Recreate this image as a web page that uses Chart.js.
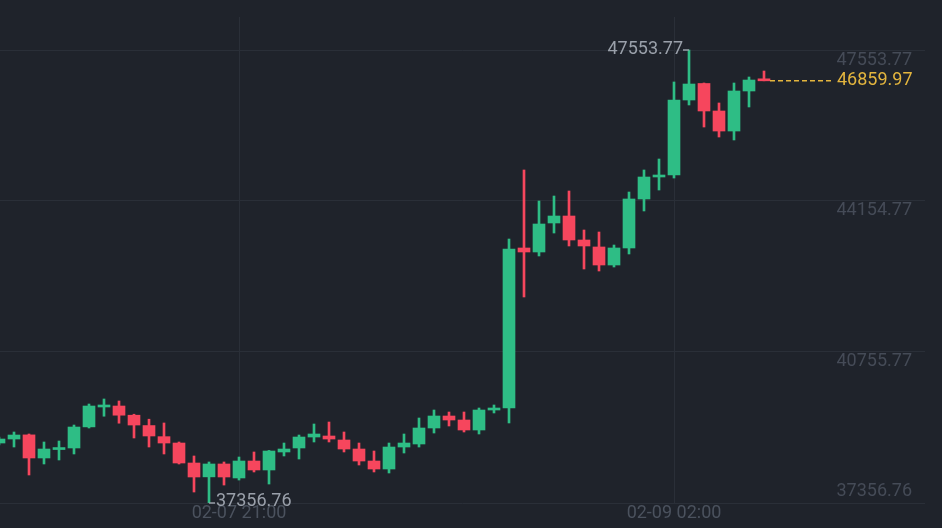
<!DOCTYPE html>
<html>
<head>
<meta charset="utf-8">
<script src="https://cdn.jsdelivr.net/npm/chart.js@4.4.1/dist/chart.umd.min.js"></script>
<style>
html, body { margin: 0; padding: 0; background: #1f232b; }
#caixa { width: 942px; height: 528px; position: relative; }
</style>
</head>
<body>
<div id="caixa"><canvas id="graficoVelas"></canvas></div>
<script>
const horas = [
    '02-07 05:00', '02-07 06:00', '02-07 07:00', '02-07 08:00', '02-07 09:00', '02-07 10:00',
    '02-07 11:00', '02-07 12:00', '02-07 13:00', '02-07 14:00', '02-07 15:00', '02-07 16:00',
    '02-07 17:00', '02-07 18:00', '02-07 19:00', '02-07 20:00', '02-07 21:00', '02-07 22:00',
    '02-07 23:00', '02-08 00:00', '02-08 01:00', '02-08 02:00', '02-08 03:00', '02-08 04:00',
    '02-08 05:00', '02-08 06:00', '02-08 07:00', '02-08 08:00', '02-08 09:00', '02-08 10:00',
    '02-08 11:00', '02-08 12:00', '02-08 13:00', '02-08 14:00', '02-08 15:00', '02-08 16:00',
    '02-08 17:00', '02-08 18:00', '02-08 19:00', '02-08 20:00', '02-08 21:00', '02-08 22:00',
    '02-08 23:00', '02-09 00:00', '02-09 01:00', '02-09 02:00', '02-09 03:00', '02-09 04:00',
    '02-09 05:00', '02-09 06:00', '02-09 07:00', '02-09 08:00'
];

const abertura = [
    38707, 38797, 38890, 38370, 38560, 38595, 39070, 39518, 39540, 39333, 39100, 38850, 38707,
    38257, 37945, 38235, 37920, 38302, 38100, 38505, 38595, 38842, 38865, 38775, 38572, 38302,
    38122, 38617, 38685, 39045, 39315, 39225, 39000, 39450, 39495, 43097, 43007, 43660, 43817,
    43277, 43120, 42714, 43097, 44200, 44695, 44740, 46428, 46800, 46181, 45730, 46631, 46878
];
const maxima = [
    38842, 38955, 38910, 38730, 38752, 39112, 39585, 39698, 39653, 39355, 39243, 39158, 38730,
    38415, 38280, 38280, 38392, 38505, 38540, 38707, 38887, 39135, 39180, 38955, 38707, 38527,
    38707, 38910, 39270, 39450, 39405, 39405, 39495, 39563, 43299, 44853, 44155, 44267, 44380,
    43502, 43457, 43164, 44357, 44853, 45100, 46834, 47553.77, 46811, 46361, 46811, 46946, 47081
];
const minima = [
    38662, 38617, 37987, 38235, 38325, 38460, 39045, 39310, 39153, 38820, 38617, 38460, 38235,
    37604, 37356.76, 37761, 37874, 38055, 37784, 38415, 38347, 38730, 38730, 38505, 38212, 38055,
    38032, 38482, 38617, 38932, 39090, 38955, 38910, 39383, 39158, 41994, 42917, 43434, 43142,
    42624, 42579, 42669, 42962, 43930, 44402, 44672, 46316, 45820, 45595, 45528, 46271, 46859.97
];
const fechamento = [
    38797, 38887, 38370, 38572, 38595, 39067, 39540, 39563, 39333, 39112, 38865, 38707, 38257,
    37942, 38235, 37942, 38302, 38100, 38527, 38572, 38842, 38910, 38797, 38572, 38302, 38122,
    38617, 38707, 39045, 39315, 39225, 39000, 39450, 39495, 43074, 43007, 43637, 43817, 43277,
    43142, 42714, 43097, 44200, 44695, 44740, 46428, 46788, 46181, 45730, 46631, 46878, 46859.97
];

const ticksPreco = [37356.76, 40755.77, 44154.77, 47553.77];
const ticksTempo = ['02-07 21:00', '02-09 02:00'];

const VERDE = '#2ebd85';
const VERMELHO = '#f6465d';
const AMARELO = '#e3b53e';
const FONTE = 'Roboto';

const cores = fechamento.map((c, i) => c >= abertura[i] ? VERDE : VERMELHO);

// Rótulos fixos: preços na grade, máxima/mínima e preço atual
const rotulos = {
    id: 'rotulos',
    afterDatasetsDraw(chart) {
        const { ctx, scales: { x, y } } = chart;
        ctx.save();
        ctx.font = '18px ' + FONTE;
        ctx.textBaseline = 'middle';

        ctx.fillStyle = '#454b57';
        ctx.textAlign = 'right';
        ticksPreco.forEach((v, i) => {
            const py = y.getPixelForValue(v);
            ctx.fillText(v.toFixed(2), 912, py + (i === 0 ? -12 : 10));
        });

        const topo = Math.max(...maxima);
        const fundo = Math.min(...minima);
        const iTopo = maxima.indexOf(topo);
        const iFundo = minima.indexOf(fundo);

        ctx.strokeStyle = '#9aa0aa';
        ctx.fillStyle = '#9aa0aa';
        ctx.lineWidth = 1.5;

        let px = x.getPixelForValue(iTopo);
        let py = y.getPixelForValue(topo);
        ctx.beginPath();
        ctx.moveTo(px, py);
        ctx.lineTo(px - 6, py);
        ctx.stroke();
        ctx.textAlign = 'right';
        ctx.fillText(topo.toFixed(2), px - 6, py - 1);

        px = x.getPixelForValue(iFundo);
        py = y.getPixelForValue(fundo);
        ctx.beginPath();
        ctx.moveTo(px, py);
        ctx.lineTo(px + 6, py);
        ctx.stroke();
        ctx.textAlign = 'left';
        ctx.fillText(fundo.toFixed(2), px + 7, py - 2);

        const ultimo = fechamento[fechamento.length - 1];
        px = x.getPixelForValue(fechamento.length - 1);
        py = y.getPixelForValue(ultimo);
        ctx.strokeStyle = AMARELO;
        ctx.fillStyle = AMARELO;
        ctx.lineWidth = 1.5;
        ctx.setLineDash([5, 3]);
        ctx.beginPath();
        ctx.moveTo(px + 6, py);
        ctx.lineTo(832, py);
        ctx.stroke();
        ctx.setLineDash([]);
        ctx.textAlign = 'left';
        ctx.fillText(ultimo.toFixed(2), 837, py);

        ctx.restore();
    }
};

const ctxVelas = document.getElementById('graficoVelas').getContext('2d');
new Chart(ctxVelas, {
    type: 'bar',
    data: {
        datasets: [
            {
                label: 'pavio',
                data: horas.map((h, i) => ({ x: i, y: [minima[i], maxima[i]] })),
                backgroundColor: cores,
                barThickness: 2,
                grouped: false,
                order: 2
            },
            {
                label: 'corpo',
                data: horas.map((h, i) => ({ x: i, y: [abertura[i], fechamento[i]] })),
                backgroundColor: cores,
                barThickness: 12,
                minBarLength: 2,
                grouped: false,
                order: 1
            }
        ]
    },
    options: {
        responsive: true,
        maintainAspectRatio: false,
        animation: false,
        layout: { padding: { top: 17, left: 0, right: 0, bottom: 0 } },
        plugins: {
            legend: { display: false },
            tooltip: { enabled: false }
        },
        scales: {
            x: {
                type: 'linear',
                offset: false,
                min: 1 / 15,
                max: 1 / 15 + 925 / 15,
                border: { display: false },
                grid: { color: '#2a2f38', drawTicks: false, offset: false },
                afterBuildTicks: s => { s.ticks = ticksTempo.map(t => ({ value: horas.indexOf(t) })); },
                afterFit: s => { s.height = 25; },
                ticks: {
                    autoSkip: false,
                    maxRotation: 0,
                    padding: 0,
                    color: '#4b525e',
                    font: { family: FONTE, size: 18 },
                    callback: v => horas[v]
                }
            },
            y: {
                position: 'right',
                min: 37356.76,
                max: 47553.77 + 33 * (47553.77 - 37356.76) / 453,
                border: { display: false },
                grid: { color: '#2a2f38', drawTicks: false },
                afterBuildTicks: s => { s.ticks = ticksPreco.map(v => ({ value: v })); },
                afterFit: s => { s.width = 17; },
                ticks: { display: false }
            }
        }
    },
    plugins: [rotulos]
});
</script>
</body>
</html>
